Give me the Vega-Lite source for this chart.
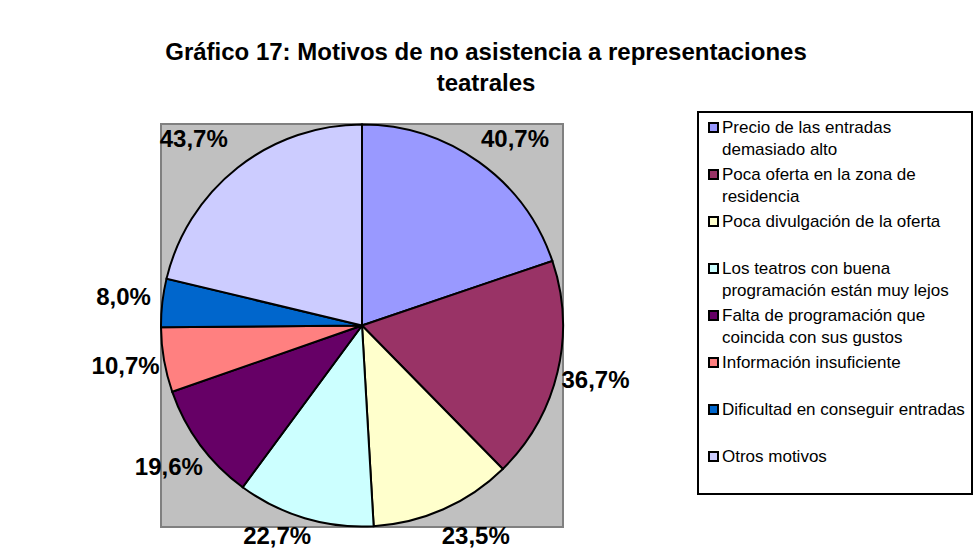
{
  "$schema": "https://vega.github.io/schema/vega-lite/v6.json",
  "width": 402,
  "height": 403,
  "autosize": {"type": "none"},
  "padding": {"left": 161, "top": 124, "right": 410, "bottom": 30},
  "background": "white",
  "data": {"values": [
    {"motivo": "Precio de las entradas demasiado alto", "pct": 40.7},
    {"motivo": "Poca oferta en la zona de residencia", "pct": 36.7},
    {"motivo": "Poca divulgación de la oferta", "pct": 23.5},
    {"motivo": "Los teatros con buena programación están muy lejos", "pct": 22.7},
    {"motivo": "Falta de programación que coincida con sus gustos", "pct": 19.6},
    {"motivo": "Información insuficiente", "pct": 10.7},
    {"motivo": "Dificultad en conseguir entradas", "pct": 8.0},
    {"motivo": "Otros motivos", "pct": 43.7}
  ]},
  "transform": [
    {"window": [{"op": "row_number", "as": "orden"}]},
    {"joinaggregate": [{"op": "sum", "field": "pct", "as": "total"}]},
    {"calculate": "replace(format(datum.pct, '.1f'), '.', ',') + '%'", "as": "etiqueta"}
  ],
  "title": {
    "text": ["Gráfico 17: Motivos de no asistencia a representaciones", "teatrales"],
    "anchor": "middle",
    "frame": "group",
    "dx": 124,
    "offset": 15,
    "font": "Liberation Sans",
    "fontSize": 24,
    "fontWeight": "bold",
    "color": "black",
    "lineHeight": 31
  },
  "layer": [
    {
      "data": {"values": [{}]},
      "mark": {"type": "rect", "fill": "#C0C0C0", "stroke": "#808080", "strokeWidth": 2},
      "encoding": {}
    },
    {
      "mark": {"type": "arc", "stroke": "black", "strokeWidth": 2},
      "encoding": {
        "theta": {"field": "pct", "type": "quantitative", "stack": true},
        "order": {"field": "orden", "type": "quantitative"},
        "color": {
          "field": "motivo",
          "type": "nominal",
          "sort": null,
          "scale": {"range": ["#9999FF", "#993366", "#FFFFCC", "#CCFFFF", "#660066", "#FF8080", "#0066CC", "#CCCCFF"]},
          "legend": {
            "title": null,
            "orient": "none",
            "legendX": 537,
            "legendY": -12,
            "symbolType": "square",
            "symbolSize": 81,
            "symbolStrokeColor": "black",
            "symbolStrokeWidth": 2,
            "symbolOpacity": 1,
            "labelFont": "Liberation Sans",
            "labelFontSize": 17,
            "labelColor": "black",
            "labelLimit": 400,
            "labelOffset": 0,
            "labelBaseline": "middle",
            "fillColor": "white",
            "strokeColor": "black",
            "padding": 7,
            "rowPadding": 7,
            "labelExpr": "datum.label == 'Precio de las entradas demasiado alto' ? ['Precio de las entradas', 'demasiado alto'] : datum.label == 'Poca oferta en la zona de residencia' ? ['Poca oferta en la zona de', 'residencia'] : datum.label == 'Los teatros con buena programación están muy lejos' ? ['Los teatros con buena', 'programación están muy lejos'] : datum.label == 'Falta de programación que coincida con sus gustos' ? ['Falta de programación que', 'coincida con sus gustos'] : [datum.label, '']"
          }
        }
      }
    },
    {
      "mark": {
        "type": "text",
        "font": "Liberation Sans",
        "fontSize": 24,
        "fontWeight": "bold",
        "color": "black",
        "dx": {"expr": "min(240, (cos(PI * (datum.pct_start + datum.pct_end) / datum.total) > 0 ? 185.5 : 211.5) / max(0.01, abs(cos(PI * (datum.pct_start + datum.pct_end) / datum.total)))) < 240 ? (sin(PI * (datum.pct_start + datum.pct_end) / datum.total) > 0 ? 20 : -22) : 0"}
      },
      "encoding": {
        "theta": {"field": "pct", "type": "quantitative", "stack": true},
        "order": {"field": "orden", "type": "quantitative"},
        "radius": {"value": {"expr": "min(240, (cos(PI * (datum.pct_start + datum.pct_end) / datum.total) > 0 ? 185.5 : 211.5) / max(0.01, abs(cos(PI * (datum.pct_start + datum.pct_end) / datum.total))))"}},
        "text": {"field": "etiqueta", "type": "nominal"}
      }
    }
  ],
  "config": {
    "view": {"stroke": null},
    "legend": {"strokeWidth": 2},
    "style": {"guide-label": {"lineHeight": 22.5}}
  }
}
